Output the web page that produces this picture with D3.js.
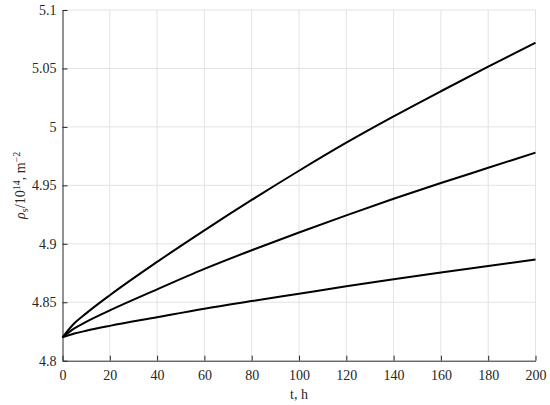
<!DOCTYPE html>
<html>
<head>
<meta charset="utf-8">
<script src="https://cdn.jsdelivr.net/npm/d3@7"></script>
<style>
  body { margin: 0; background: #fff; }
  svg text { font-family: "Liberation Serif", "Times New Roman", "DejaVu Serif", serif !important; fill: #262626; }
</style>
</head>
<body>
<svg id="chart" width="550" height="405"></svg>
<script>
// time, h
const tValues = [0, 5, 10, 20, 40, 60, 80, 100, 120, 140, 160, 180, 200];
// rho_s / 1e14 for the three curves
const upperCurve  = [4.82, 4.832, 4.8405, 4.856, 4.8845, 4.9115, 4.9375, 4.9625, 4.9865, 5.009, 5.0305, 5.0515, 5.072];
const middleCurve = [4.82, 4.8276, 4.8332, 4.843, 4.861, 4.8785, 4.8945, 4.9097, 4.9243, 4.9385, 4.952, 4.965, 4.978];
const lowerCurve  = [4.82, 4.8232, 4.8256, 4.8298, 4.8372, 4.8445, 4.851, 4.8573, 4.8636, 4.8697, 4.8755, 4.881, 4.8865];

const xTicks = [0, 20, 40, 60, 80, 100, 120, 140, 160, 180, 200];
const yTicks = [4.8, 4.85, 4.9, 4.95, 5, 5.05, 5.1];

var margin = {top: 10, right: 14.5, bottom: 44.3, left: 62.5},
    width = 550 - margin.left - margin.right,
    height = 405 - margin.top - margin.bottom;

const svg = d3.select("#chart")
  .append("g")
  .attr("transform", "translate(" + margin.left + "," + margin.top + ")");

var x = d3.scaleLinear().domain([0, 200]).range([0, width]);
var y = d3.scaleLinear().domain([4.8, 5.1]).range([height, 0]);

// grid
svg.append("g")
  .selectAll("line")
  .data(xTicks.slice(1))
  .enter().append("line")
  .attr("x1", d => x(d)).attr("x2", d => x(d))
  .attr("y1", 0).attr("y2", height)
  .attr("stroke", "#e3e3e3").attr("stroke-width", 1);
svg.append("g")
  .selectAll("line")
  .data(yTicks.slice(1))
  .enter().append("line")
  .attr("x1", 0).attr("x2", width)
  .attr("y1", d => y(d)).attr("y2", d => y(d))
  .attr("stroke", "#e3e3e3").attr("stroke-width", 1);

// axes, ticks point inward
const xAxis = svg.append("g")
  .attr("transform", "translate(0," + height + ")")
  .call(d3.axisBottom(x).tickValues(xTicks).tickSizeInner(-5).tickSizeOuter(0).tickPadding(9.5));
const yAxis = svg.append("g")
  .call(d3.axisLeft(y).tickValues(yTicks).tickFormat(d => String(+d.toFixed(2))).tickSizeInner(-5).tickSizeOuter(0).tickPadding(6));

[xAxis, yAxis].forEach(a => {
  a.attr("font-family", null).attr("font-size", null);
  a.select(".domain").attr("stroke", "#262626");
  a.selectAll(".tick line").attr("stroke", "#262626");
  a.selectAll(".tick text")
    .attr("fill", "#262626")
    .style("font-size", "14px");
});

// curves
const line = d3.line()
  .x((d, i) => x(tValues[i]))
  .y(d => y(d))
  .curve(d3.curveMonotoneX);

[upperCurve, middleCurve, lowerCurve].forEach(series => {
  svg.append("path")
    .datum(series)
    .attr("fill", "none")
    .attr("stroke", "#000")
    .attr("stroke-width", 2)
    .attr("d", line);
});

// x label
svg.append("text")
  .attr("x", width / 2)
  .attr("y", height + 38)
  .attr("text-anchor", "middle")
  .style("font-size", "14px")
  .text("t, h");

// y label
const yl = svg.append("text")
  .attr("transform", "translate(" + (-38) + "," + (height / 2) + ") rotate(-90)")
  .attr("text-anchor", "middle")
  .style("font-size", "14px");
yl.append("tspan").style("font-style", "italic").text("ρ");
yl.append("tspan").attr("baseline-shift", "-25%").style("font-size", "10px").text("s");
yl.append("tspan").text("/10");
yl.append("tspan").attr("baseline-shift", "super").style("font-size", "10px").text("14");
yl.append("tspan").text(", m");
yl.append("tspan").attr("baseline-shift", "super").style("font-size", "10px").text("−2");
</script>
</body>
</html>
